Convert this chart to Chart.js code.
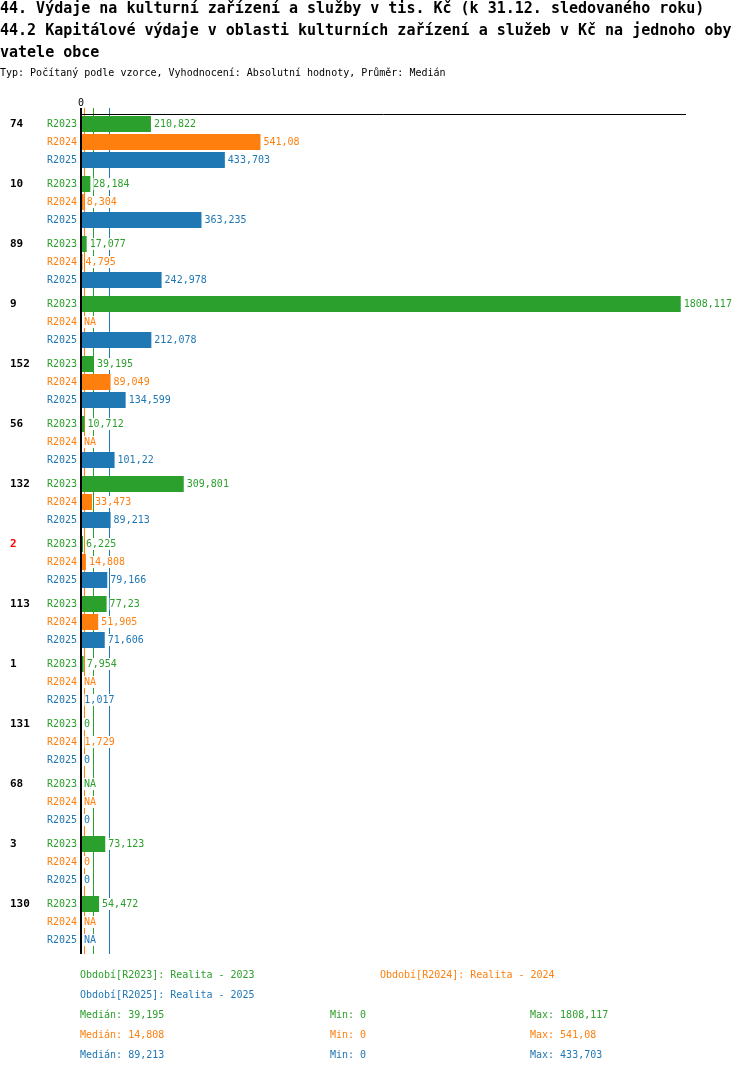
<!DOCTYPE html>
<html>
<head>
<meta charset="utf-8">
<script src="https://cdn.jsdelivr.net/npm/chart.js@4/dist/chart.umd.min.js"></script>
<style>
    body { margin: 0; background: #fff; width: 750px; height: 1074px; position: relative; overflow: hidden; font-family: "DejaVu Sans Mono", monospace; }
    #chart { position: absolute; left: 0; top: 0; }
    .title { position: absolute; left: 0; top: -3px; font-size: 15px; font-weight: bold; line-height: 22px; white-space: pre; color: #000; }
    .sub { position: absolute; left: 0; top: 67px; font-size: 10px; line-height: 12px; white-space: pre; color: #000; }
    .foot { position: absolute; font-size: 10px; line-height: 12px; white-space: pre; }
</style>
</head>
<body>
<canvas id="chart" width="750" height="1074"></canvas>
<div class="title">44. Výdaje na kulturní zařízení a služby v tis. Kč (k 31.12. sledovaného roku)
44.2 Kapitálové výdaje v oblasti kulturních zařízení a služeb v Kč na jednoho oby
vatele obce</div>
<div class="sub">Typ: Počítaný podle vzorce, Vyhodnocení: Absolutní hodnoty, Průměr: Medián</div>
<div id="footer"></div>
<script>
// chart data
const groups = ['74', '10', '89', '9', '152', '56', '132', '2', '113', '1', '131', '68', '3', '130'];
const highlighted = ['2'];
const periods = ['R2023', 'R2024', 'R2025'];
const periodNames = ['Realita - 2023', 'Realita - 2024', 'Realita - 2025'];
const r2023 = [210.822, 28.184, 17.077, 1808.117, 39.195, 10.712, 309.801, 6.225, 77.23, 7.954, 0, null, 73.123, 54.472];
const r2024 = [541.08, 8.304, 4.795, null, 89.049, null, 33.473, 14.808, 51.905, null, 1.729, null, 0, null];
const r2025 = [433.703, 363.235, 242.978, 212.078, 134.599, 101.22, 89.213, 79.166, 71.606, 1.017, 0, 0, 0, null];
const colors = ['#2ca02c', '#ff7f0e', '#1f77b4'];

const series = [r2023, r2024, r2025];

function fmt(v) {
    return String(v).replace('.', ',');
}

function median(arr) {
    const s = arr.filter(v => v !== null).sort((a, b) => a - b);
    const m = Math.floor(s.length / 2);
    return s.length % 2 ? s[m] : (s[m - 1] + s[m]) / 2;
}

const stats = series.map(arr => {
    const vals = arr.filter(v => v !== null);
    return { med: median(arr), min: Math.min(...vals), max: Math.max(...vals) };
});

// footer legend + stats
const footer = document.getElementById('footer');
function addFoot(text, x, y, color) {
    const d = document.createElement('div');
    d.className = 'foot';
    d.style.left = x + 'px';
    d.style.top = (y - 6) + 'px';
    d.style.color = color;
    d.textContent = text;
    footer.appendChild(d);
}
addFoot('Období[' + periods[0] + ']: ' + periodNames[0], 80, 975, colors[0]);
addFoot('Období[' + periods[1] + ']: ' + periodNames[1], 380, 975, colors[1]);
addFoot('Období[' + periods[2] + ']: ' + periodNames[2], 80, 995, colors[2]);
stats.forEach((s, i) => {
    const y = 1015 + i * 20;
    addFoot('Medián: ' + fmt(s.med), 80, y, colors[i]);
    addFoot('Min: ' + fmt(s.min), 330, y, colors[i]);
    addFoot('Max: ' + fmt(s.max), 530, y, colors[i]);
});

const LINE_TOP = 108;
const LINE_BOTTOM = 954;

const overlay = {
    id: 'overlay',
    beforeDatasetsDraw(chart) {
        const ctx = chart.ctx;
        const xs = chart.scales.x;
        ctx.save();
        ctx.lineWidth = 1;
        stats.forEach((s, i) => {
            const x = Math.floor(xs.getPixelForValue(s.med)) - 0.5;
            ctx.strokeStyle = colors[i];
            ctx.beginPath();
            ctx.moveTo(x, LINE_TOP);
            ctx.lineTo(x, LINE_BOTTOM);
            ctx.stroke();
        });
        ctx.restore();
    },
    afterDatasetsDraw(chart) {
        const ctx = chart.ctx;
        const xs = chart.scales.x;
        const x0 = xs.getPixelForValue(0);
        ctx.save();

        // axes
        ctx.strokeStyle = '#000';
        ctx.lineWidth = 1;
        ctx.beginPath();
        ctx.moveTo(x0, 114.5);
        ctx.lineTo(chart.chartArea.right, 114.5);
        ctx.stroke();
        ctx.lineWidth = 2;
        ctx.beginPath();
        ctx.moveTo(x0, LINE_TOP);
        ctx.lineTo(x0, LINE_BOTTOM);
        ctx.stroke();

        ctx.fillStyle = '#000';
        ctx.font = '10px "DejaVu Sans Mono"';
        ctx.textAlign = 'center';
        ctx.textBaseline = 'middle';
        ctx.fillText('0', x0, 103);

        // row labels, group labels, values
        chart.data.datasets.forEach((ds, d) => {
            const meta = chart.getDatasetMeta(d);
            meta.data.forEach((bar, i) => {
                const y = bar.y;
                const v = ds.data[i];

                ctx.textBaseline = 'middle';
                ctx.font = '10px "DejaVu Sans Mono"';
                ctx.fillStyle = colors[d];
                ctx.textAlign = 'right';
                ctx.fillText(periods[d], 77, y);

                if (d === 0) {
                    ctx.font = 'bold 11px "DejaVu Sans Mono"';
                    ctx.textAlign = 'left';
                    ctx.fillStyle = highlighted.includes(groups[i]) ? '#ff0000' : '#000';
                    ctx.fillText(groups[i], 10, y);
                }

                ctx.font = '10px "DejaVu Sans Mono"';
                ctx.textAlign = 'left';
                const text = v === null ? 'NA' : fmt(v);
                const end = v === null ? x0 : Math.max(xs.getPixelForValue(v), x0);
                const tx = end + 3;
                const w = ctx.measureText(text).width;
                ctx.fillStyle = '#fff';
                ctx.fillRect(tx, y - 6, w + 1, 12);
                ctx.fillStyle = colors[d];
                ctx.fillText(text, tx, y);
            });
        });
        ctx.restore();
    }
};

new Chart(document.getElementById('chart'), {
    type: 'bar',
    data: {
        labels: groups,
        datasets: series.map((arr, i) => ({
            label: periods[i],
            data: arr,
            backgroundColor: colors[i],
            borderWidth: 0,
            categoryPercentage: 0.9,
            barPercentage: 16 / 18
        }))
    },
    options: {
        indexAxis: 'y',
        responsive: false,
        animation: false,
        devicePixelRatio: 1,
        layout: {
            padding: { left: 81, right: 64, top: 112, bottom: 122 }
        },
        plugins: {
            legend: { display: false },
            tooltip: { enabled: false }
        },
        scales: {
            x: { display: false, min: 0, max: 1824 },
            y: { display: false }
        }
    },
    plugins: [overlay]
});
</script>
</body>
</html>
